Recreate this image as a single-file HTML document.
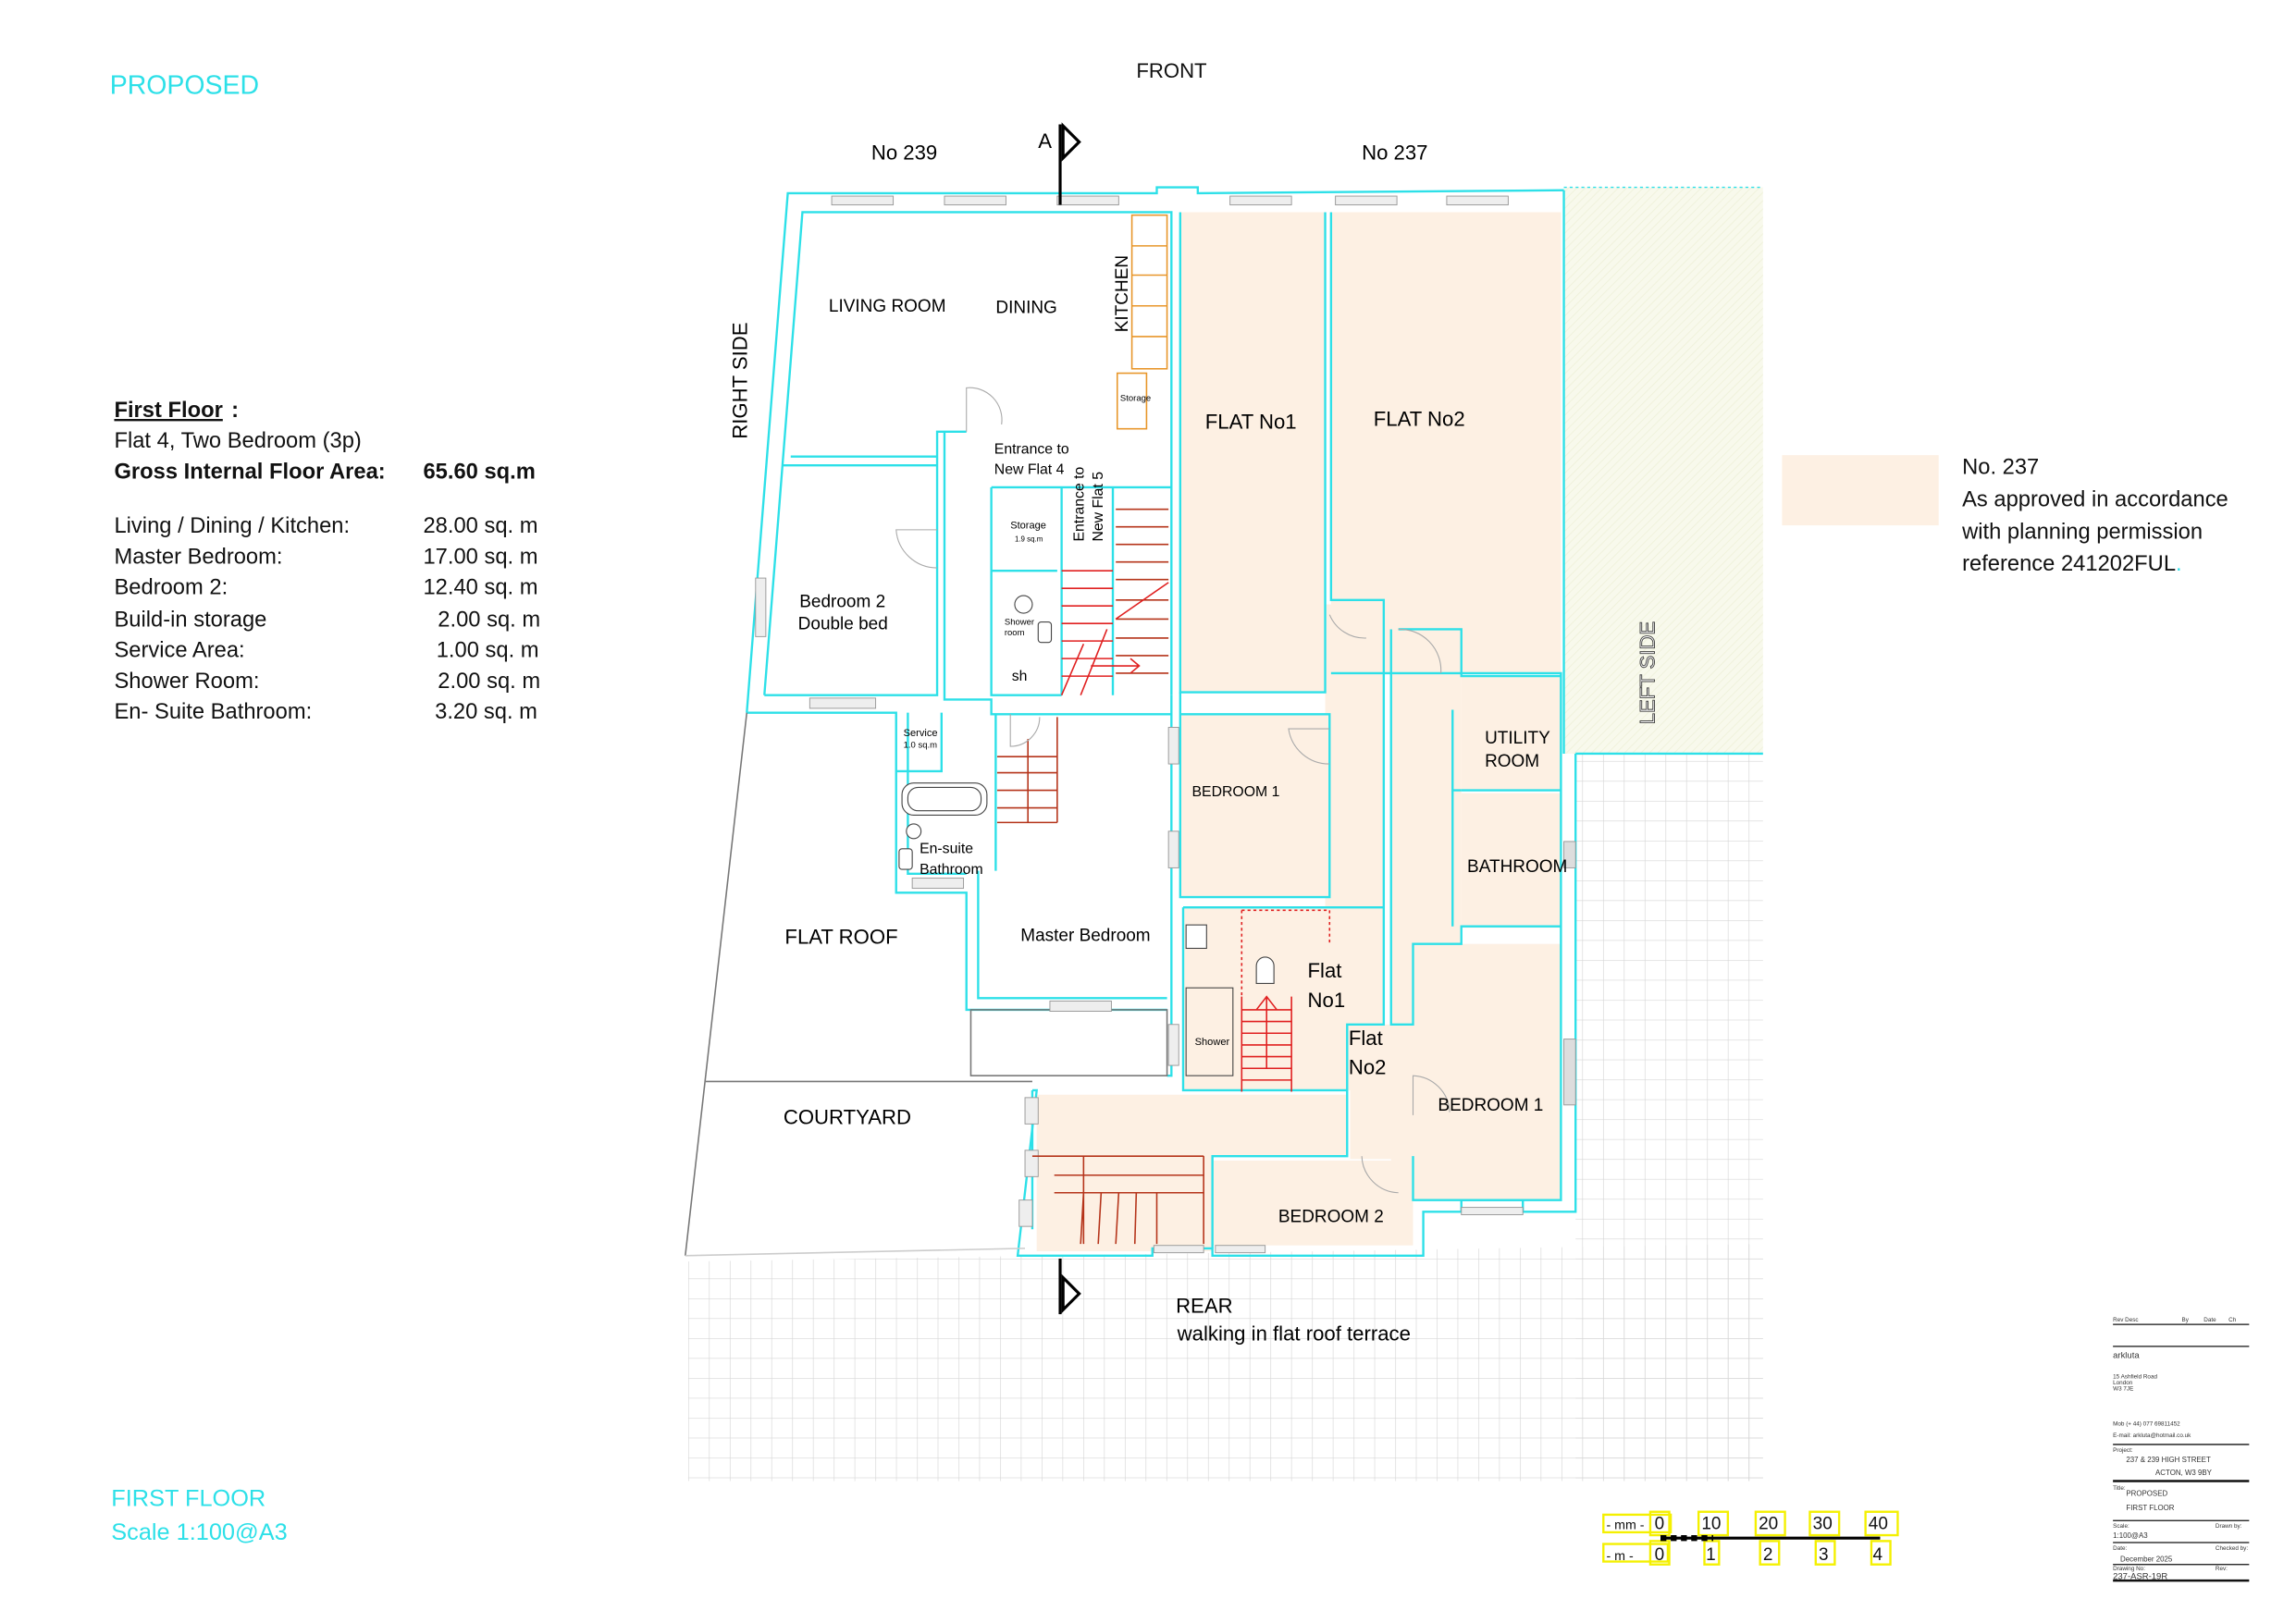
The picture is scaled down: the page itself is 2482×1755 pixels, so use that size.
<!DOCTYPE html>
<html><head><meta charset="utf-8"><style>
html,body{margin:0;padding:0;background:#fff;}
svg{display:block;}
text{font-family:"Liberation Sans",sans-serif;}
</style></head><body>
<svg width="2482" height="1755" viewBox="0 0 1568 1109" preserveAspectRatio="none" xmlns="http://www.w3.org/2000/svg">
<defs>
<pattern id="g" x="470" y="860" width="14.2" height="13.6" patternUnits="userSpaceOnUse">
<path d="M0 0H14.2M0 0V13.6" stroke="#d6d6d6" stroke-width="0.8" fill="none"/>
</pattern>
<pattern id="h" width="4" height="4" patternUnits="userSpaceOnUse" patternTransform="rotate(45)">
<path d="M0 0V4" stroke="#eef0d8" stroke-width="1"/>
</pattern>
</defs>
<rect width="1568" height="1109" fill="#fff"/>

<rect x="1076" y="515" width="128" height="497" fill="url(#g)"/>
<polygon points="470,862 1204,850 1204,1012 470,1012" fill="url(#g)"/>
<rect x="1068" y="128" width="136" height="387" fill="#f8f9ec"/>
<rect x="1068" y="128" width="136" height="387" fill="url(#h)"/>
<line x1="1068" y1="128" x2="1204" y2="128" stroke="#2de0e8" stroke-width="0.8" stroke-dasharray="2,2"/>

<g fill="#fdf0e3">
<rect x="806" y="145" width="99" height="328"/>
<rect x="909" y="145" width="157" height="315"/>
<rect x="905" y="413" width="40" height="290"/>
<rect x="806" y="488" width="102" height="125"/>
<rect x="808" y="620" width="137" height="125"/>
<rect x="950" y="430" width="48" height="372"/>
<rect x="922" y="700" width="45" height="92"/>
<rect x="998" y="462" width="68" height="78"/>
<rect x="998" y="542" width="68" height="92"/>
<rect x="965" y="645" width="101" height="175"/>
<polygon points="708,748 920,748 920,790 828,790 828,855 708,855"/>
<rect x="828" y="793" width="137" height="58"/>
<rect x="1217" y="311" width="107" height="48"/>
</g>

<g stroke="#2de0e8" stroke-width="1.5" fill="none">
<polyline points="510,487 538,132 790,132 790,128 818,128 818,132 1068,130"/>
<polyline points="522,475 548,145 800,145 800,475"/>
<line x1="1068" y1="130" x2="1068" y2="515"/>
<line x1="1076" y1="515" x2="1204" y2="515"/>
<polyline points="1076,515 1076,828 1040,828 1040,820 998,820 998,828 972,828 972,858 828,858 828,853 787,853 787,858 695,858 708,745 705,745"/>
<polyline points="806,145 806,473 905,473 905,145"/>
<polyline points="909,145 909,410 945,410 945,700 920,700 920,790 828,790 828,853"/>
<polyline points="909,460 1066,460 1066,820 965,820 965,790"/>
<polyline points="955,430 998,430 998,462 1066,462"/>
<polyline points="950,430 950,700 965,700 965,645 998,645 998,633 1066,633"/>
<polyline points="998,540 1066,540"/>
<polyline points="992,485 992,540 998,540"/>
<polyline points="992,540 992,633"/>
<polyline points="806,488 908,488 908,613 806,613 806,473"/>
<polyline points="800,475 800,735 797,735"/>
<polyline points="808,620 945,620"/>
<polyline points="808,620 808,745 920,745"/>
<polyline points="510,487 612,487 612,610 660,610 660,690 797,690"/>
<polyline points="522,475 640,475 640,295 660,295"/>
<polyline points="540,312 640,312"/>
<polyline points="535,318 640,318"/>
<polyline points="645,295 645,478 677,478 677,488 800,488"/>
<polyline points="677,333 677,475 725,475"/>
<polyline points="643,487 643,527 612,527"/>
<polyline points="620,487 620,597 660,597"/>
<polyline points="668,595 668,682 797,682"/>
<polyline points="680,488 680,595"/>
<polyline points="725,333 725,475"/>
<polyline points="760,333 760,475"/>
<polyline points="677,333 800,333"/>
<polyline points="677,390 722,390 M677,448 722,448"/>
<polyline points="705,745 705,840"/>
</g>

<g stroke="#777" stroke-width="1" fill="none">
<polyline points="510,487 468,858"/>
<line x1="482" y1="739" x2="705" y2="739"/>
<line x1="468" y1="858" x2="700" y2="853" stroke="#ccc"/>
<rect x="663" y="690" width="134" height="45"/>
</g>

<g fill="#eee" stroke="#999" stroke-width="0.6">
<rect x="568" y="134" width="42" height="6"/><rect x="645" y="134" width="42" height="6"/><rect x="722" y="134" width="42" height="6"/>
<rect x="840" y="134" width="42" height="6"/><rect x="912" y="134" width="42" height="6"/><rect x="988" y="134" width="42" height="6"/>
<rect x="553" y="477" width="45" height="7"/><rect x="623" y="600" width="35" height="7"/><rect x="717" y="684" width="42" height="7"/>
<rect x="516" y="395" width="7" height="40"/><rect x="798" y="497" width="7" height="25"/><rect x="798" y="568" width="7" height="25"/>
<rect x="798" y="700" width="7" height="28"/><rect x="700" y="750" width="9" height="18"/><rect x="700" y="786" width="9" height="18"/><rect x="696" y="820" width="9" height="18"/>
<rect x="788" y="851" width="34" height="5"/><rect x="830" y="851" width="34" height="5"/><rect x="998" y="825" width="42" height="5"/>
<rect x="1068" y="575" width="8" height="18" fill="#ddd"/><rect x="1068" y="710" width="8" height="45" fill="#ddd"/>
</g>

<g stroke="#e8962a" stroke-width="1" fill="none">
<rect x="773" y="147" width="24" height="105"/>
<path d="M773,168H797M773,188H797M773,209H797M773,230H797"/>
<rect x="763" y="255" width="20" height="38"/>
</g>
<g stroke="#b5341a" stroke-width="1" fill="none">
<path d="M762,348H798M762,360H798M762,372H798M762,384H798M762,396H798M762,410H798M762,423H798M762,436H798M762,448H798M762,460H798"/>
<path d="M681,517H722M681,528H722M681,540H722M681,552H722M681,562H722M702,505V562M722,490V562"/>
<path d="M720,790H822M720,803H822M720,815H822M740,815L738,850M752,815L750,850M764,815L762,850M776,815L775,850M790,815L790,850M822,790V850M705,790H740M740,790V850"/>
</g>
<g stroke="#e02020" stroke-width="1" fill="none">
<path d="M725,390H760M725,402H760M725,414H760M725,426H760M725,438H760M725,450H760M725,462H760M740,440L725,475M756,430L738,475M745,455H778M772,450L778,455L772,460M762,423L798,398"/>
<path d="M848,690H882M848,698H882M848,706H882M848,714H882M848,722H882M848,730H882M848,738H882M848,681V746M882,681V746M865,681V730M858,690L865,681L872,690"/>
<path d="M848,622H908V645M848,622V680" stroke-dasharray="2,2"/>
</g>
<g stroke="#444" stroke-width="0.7" fill="#fff">
<rect x="616" y="535" width="58" height="22" rx="8"/><rect x="620" y="538" width="50" height="16" rx="7"/>
<circle cx="624" cy="568" r="5"/><rect x="614" y="580" width="9" height="14" rx="2"/>
<circle cx="699" cy="413" r="6"/><rect x="709" y="425" width="9" height="14" rx="2"/>
<rect x="810" y="632" width="14" height="16"/><path d="M858,672V660A6,6 0 0 1 870,660V672Z"/>
<rect x="810" y="675" width="32" height="60" fill="none"/>
</g>
<g stroke="#aaa" stroke-width="0.7" fill="none">
<path d="M660,295V265A22,22 0 0 1 684,290"/><path d="M640,362H612A28,28 0 0 0 640,388"/>
<path d="M908,498H880A28,28 0 0 0 908,522"/><path d="M908,420A26,26 0 0 0 933,436"/>
<path d="M955,430A28,28 0 0 1 984,460"/><path d="M690,488V510A20,20 0 0 0 710,490"/>
<path d="M965,762V735A26,26 0 0 1 990,760"/><path d="M930,790A26,26 0 0 0 955,815"/>
</g>

<g stroke="#000" stroke-width="2" fill="none">
<line x1="724" y1="85" x2="724" y2="140"/><polygon points="726,86 737,97 726,108" fill="#fff"/>
<line x1="724" y1="860" x2="724" y2="898"/><polygon points="726,873 737,884 726,895" fill="#fff"/>
</g>

<text x="75" y="64" font-size="18" fill="#2de0e8">PROPOSED</text>
<text x="776" y="53" font-size="14" fill="#111">FRONT</text>
<text x="595" y="109" font-size="14">No 239</text>
<text x="930" y="109" font-size="14">No 237</text>
<text x="709" y="101" font-size="14">A</text>
<text transform="translate(510,300) rotate(-90)" font-size="14">RIGHT SIDE</text>
<text transform="translate(1130,495) rotate(-90)" font-size="14" fill="#fff" stroke="#444" stroke-width="0.6">LEFT SIDE</text>
<g font-size="12">
<text x="566" y="213">LIVING  ROOM</text><text x="680" y="214">DINING</text>
<text transform="translate(770,227) rotate(-90)">KITCHEN</text>
<text x="765" y="274" font-size="6">Storage</text>
<text x="679" y="310" font-size="10">Entrance to</text><text x="679" y="324" font-size="10">New Flat 4</text>
<text transform="translate(740,370) rotate(-90)" font-size="10">Entrance to</text>
<text transform="translate(753,370) rotate(-90)" font-size="10">New Flat 5</text>
<text x="690" y="361" font-size="7">Storage</text><text x="693" y="370" font-size="5">1.9 sq.m</text>
<text x="686" y="427" font-size="6">Shower</text><text x="686" y="434" font-size="6">room</text>
<text x="691" y="465" font-size="10">sh</text>
<text x="546" y="415">Bedroom 2</text><text x="545" y="430">Double bed</text>
<text x="617" y="503" font-size="7">Service</text><text x="617" y="511" font-size="6">1.0 sq.m</text>
<text x="628" y="583" font-size="10">En-suite</text><text x="628" y="597" font-size="10">Bathroom</text>
<text x="697" y="643">Master Bedroom</text>
<text x="536" y="645" font-size="14">FLAT ROOF</text>
<text x="535" y="768" font-size="14">COURTYARD</text>
<text x="823" y="293" font-size="14">FLAT No1</text><text x="938" y="291" font-size="14">FLAT No2</text>
<text x="814" y="544" font-size="10">BEDROOM  1</text>
<text x="1014" y="508">UTILITY</text><text x="1014" y="524">ROOM</text>
<text x="1002" y="596">BATHROOM</text>
<text x="893" y="668" font-size="14">Flat</text><text x="893" y="688" font-size="14">No1</text>
<text x="921" y="714" font-size="14">Flat</text><text x="921" y="734" font-size="14">No2</text>
<text x="816" y="714" font-size="7">Shower</text>
<text x="982" y="759">BEDROOM 1</text>
<text x="873" y="835">BEDROOM 2</text>
<text x="803" y="897" font-size="14">REAR</text>
<text x="804" y="916" font-size="14">walking in flat roof terrace</text>
</g>
<g font-size="15" fill="#111">
<text x="78" y="285" font-weight="bold" text-decoration="underline">First Floor</text><text x="158" y="285" font-weight="bold">:</text>
<text x="78" y="306">Flat 4, Two Bedroom  (3p)</text>
<text x="78" y="327" font-weight="bold">Gross Internal Floor Area:</text><text x="289" y="327" font-weight="bold">65.60 sq.m</text>
<text x="78" y="364">Living / Dining / Kitchen:</text><text x="289" y="364">28.00 sq. m</text>
<text x="78" y="385">Master Bedroom:</text><text x="289" y="385">17.00 sq. m</text>
<text x="78" y="406">Bedroom 2:</text><text x="289" y="406">12.40 sq. m</text>
<text x="78" y="428">Build-in storage</text><text x="299" y="428">2.00 sq. m</text>
<text x="78" y="449">Service Area:</text><text x="298" y="449">1.00 sq. m</text>
<text x="78" y="470">Shower Room:</text><text x="299" y="470">2.00 sq. m</text>
<text x="78" y="491">En- Suite Bathroom:</text><text x="297" y="491">3.20 sq. m</text>
</g>
<g font-size="15" fill="#111">
<text x="1340" y="324">No. 237</text>
<text x="1340" y="346">As approved in accordance</text>
<text x="1340" y="368">with planning permission</text>
<text x="1340" y="390">reference 241202FUL<tspan fill="#2de0e8">.</tspan></text>
</g>
<text x="76" y="1029" font-size="16" fill="#2de0e8">FIRST  FLOOR</text>
<text x="76" y="1052" font-size="16" fill="#2de0e8">Scale 1:100@A3</text>

<g stroke="#f4f000" stroke-width="1.5" fill="none">
<rect x="1095" y="1035" width="46" height="12"/><rect x="1095" y="1055" width="44" height="12"/>
<rect x="1127" y="1033" width="13" height="16"/><rect x="1160" y="1033" width="20" height="16"/><rect x="1199" y="1033" width="20" height="16"/><rect x="1236" y="1033" width="20" height="16"/><rect x="1274" y="1033" width="22" height="16"/>
<rect x="1127" y="1053" width="13" height="16"/><rect x="1164" y="1053" width="10" height="16"/><rect x="1202" y="1053" width="13" height="16"/><rect x="1240" y="1053" width="13" height="16"/><rect x="1278" y="1053" width="13" height="16"/>
</g>
<line x1="1134" y1="1051" x2="1284" y2="1051" stroke="#000" stroke-width="2"/>
<line x1="1134" y1="1051" x2="1170" y2="1051" stroke="#000" stroke-width="4" stroke-dasharray="4,3"/>
<g font-size="12" fill="#111">
<text x="1130" y="1045">0</text><text x="1162" y="1045">10</text><text x="1201" y="1045">20</text><text x="1238" y="1045">30</text><text x="1276" y="1045">40</text>
<text x="1130" y="1066">0</text><text x="1165" y="1066">1</text><text x="1204" y="1066">2</text><text x="1242" y="1066">3</text><text x="1279" y="1066">4</text>
<text x="1097" y="1045" font-size="9">- mm -</text><text x="1097" y="1066" font-size="9">- m -</text>
</g>

<g stroke="#111" fill="none">
<line x1="1443" y1="905" x2="1536" y2="905" stroke-width="0.8"/>
<line x1="1443" y1="920" x2="1536" y2="920" stroke-width="0.8"/>
<line x1="1443" y1="987" x2="1536" y2="987" stroke-width="0.8"/>
<line x1="1443" y1="1012" x2="1536" y2="1012" stroke-width="1.6"/>
<line x1="1443" y1="1039" x2="1536" y2="1039" stroke-width="0.8"/>
<line x1="1443" y1="1054" x2="1536" y2="1054" stroke-width="0.8"/>
<line x1="1443" y1="1069" x2="1536" y2="1069" stroke-width="0.8"/>
<line x1="1443" y1="1080" x2="1536" y2="1080" stroke-width="1.6"/>
</g>
<g font-size="4" fill="#333">
<text x="1443" y="903">Rev   Desc</text><text x="1490" y="903">By</text><text x="1505" y="903">Date</text><text x="1522" y="903">Ch</text>
<text x="1443" y="928" font-size="6">arkluta</text>
<text x="1443" y="942">15 Ashfield Road</text><text x="1443" y="946">London</text><text x="1443" y="950">W3 7JE</text>
<text x="1443" y="974">Mob (+ 44) 077 69811452</text><text x="1443" y="982">E-mail: arkluta@hotmail.co.uk</text>
<text x="1443" y="992">Project:</text><text x="1452" y="999" font-size="5">237 &amp; 239 HIGH STREET</text><text x="1472" y="1008" font-size="5">ACTON, W3 9BY</text>
<text x="1443" y="1018">Title:</text><text x="1452" y="1022" font-size="5">PROPOSED</text><text x="1452" y="1032" font-size="5">FIRST FLOOR</text>
<text x="1443" y="1044">Scale:</text><text x="1443" y="1051" font-size="5">1:100@A3</text><text x="1513" y="1044">Drawn by:</text>
<text x="1443" y="1059">Date:</text><text x="1448" y="1067" font-size="5">December 2025</text><text x="1513" y="1059">Checked by:</text>
<text x="1443" y="1073">Drawing No:</text><text x="1443" y="1079" font-size="6">237-ASR-19R</text><text x="1513" y="1073">Rev:</text>
</g>
</svg>
</body></html>
